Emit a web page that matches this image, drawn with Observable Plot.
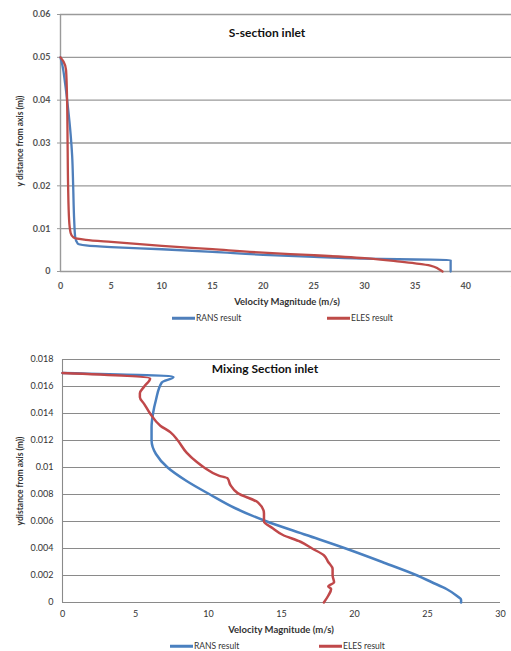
<!DOCTYPE html>
<html><head><meta charset="utf-8">
<script src="https://cdn.jsdelivr.net/npm/d3@7"></script>
<script src="https://cdn.jsdelivr.net/npm/@observablehq/plot@0.6"></script>
<style>
body{margin:0;background:#fff;overflow:hidden;font-family:Lato,"Open Sans",sans-serif}
#wrap{position:relative;width:511px;height:651px;overflow:hidden;background:#fff}
.abs{position:absolute;white-space:nowrap;transform:translate(-50%,-50%);line-height:1}
.title{font-weight:bold;font-size:12px;color:#111}
.xlab{font-weight:bold;font-size:9.5px;color:#333}
.ylab{font-weight:bold;font-size:8.5px;color:#333;transform:translate(-50%,-50%) rotate(-90deg)}
.leg{position:absolute;white-space:nowrap;font-size:8.5px;color:#333;line-height:1;transform:translateY(-50%)}
.leg i{display:inline-block;width:23px;height:3px;vertical-align:middle;margin-right:1px}
#c1,#c2{position:absolute;left:0}
#c1{top:0}#c2{top:335px}
</style></head>
<body><div id="wrap">
<div id="c1"></div><div id="c2"></div>
</div>
<script>
// ---- S-section inlet ----
const sRansVel = [38.5, 38.5, 35, 30, 25, 20, 15, 10, 5, 2.5, 1.7, 1.45, 1.35, 1.25, 1.15, 1.0, 0.75, 0.45, 0.2, 0];
const sRansY   = [0, 0.0027, 0.0028, 0.0030, 0.0034, 0.0039, 0.0046, 0.0052, 0.0057, 0.0061, 0.0065, 0.008, 0.012, 0.02, 0.027, 0.032, 0.038, 0.044, 0.048, 0.05];
const sElesVel = [37.7, 37.3, 36.5, 35, 33.5, 30, 25, 20, 15, 10, 5, 2.5, 1.3, 1.0, 0.85, 0.75, 0.7, 0.65, 0.55, 0.3, 0];
const sElesY   = [0, 0.0006, 0.0014, 0.0019, 0.0023, 0.0031, 0.0038, 0.0044, 0.0052, 0.006, 0.0069, 0.0074, 0.0079, 0.009, 0.012, 0.02, 0.03, 0.04, 0.047, 0.049, 0.05];
const sXTicks = [0, 5, 10, 15, 20, 25, 30, 35, 40, 45];
const sYTicks = [0, 0.01, 0.02, 0.03, 0.04, 0.05, 0.06];
const sYLabels = ["0", "0.01", "0.02", "0.03", "0.04", "0.05", "0.06"];

// ---- Mixing Section inlet ----
const mRansVel = [27.3, 27.3, 27.0, 26.3, 25.3, 24.3, 21.9, 19.4, 16.7, 14.0, 11.8, 10.1, 8.5, 7.2, 6.4, 6.1, 6.1, 6.2, 6.4, 6.8, 7.6, 0];
const mRansY   = [0, 0.0002, 0.0005, 0.001, 0.0015, 0.002, 0.003, 0.004, 0.005, 0.006, 0.007, 0.008, 0.009, 0.010, 0.011, 0.012, 0.013, 0.014, 0.015, 0.0163, 0.0167, 0.0170];
const mElesVel = [0, 6.0, 5.6, 5.3, 5.3, 5.6, 6.0, 6.7, 7.4, 7.9, 8.5, 9.2, 9.7, 10.7, 11.3, 11.5, 12.0, 13.4, 13.8, 13.8, 14.4, 15.1, 16.3, 17.1, 17.9, 18.2, 18.5, 18.5, 18.6, 18.2, 18.4, 18.2, 17.9];
const mElesY   = [0.017, 0.0166, 0.016, 0.0155, 0.0152, 0.0147, 0.014, 0.0131, 0.0126, 0.012, 0.0111, 0.0104, 0.01, 0.0094, 0.0092, 0.0087, 0.0081, 0.0074, 0.0066, 0.006, 0.0055, 0.005, 0.0045, 0.004, 0.0035, 0.003, 0.0025, 0.002, 0.0015, 0.0012, 0.001, 0.0005, 0];
const mXTicks = [0, 5, 10, 15, 20, 25, 30];
const mYTicks = [0, 0.002, 0.004, 0.006, 0.008, 0.01, 0.012, 0.014, 0.016, 0.018];
const mYLabels = ["0", "0.002", "0.004", "0.006", "0.008", "0.01", "0.012", "0.014", "0.016", "0.018"];

const seriesNames = ["RANS result", "ELES result"];
const colors = ["#4f7fbb", "#be4b48"];

const rows = (vel, ys) => vel.map((v, i) => ({v, y: ys[i]}));

const c1 = Plot.plot({
  width: 511, height: 335,
  marginLeft: 60, marginRight: 0, marginTop: 14, marginBottom: 64,
  style: {fontFamily: "Lato, 'Open Sans', sans-serif", fontSize: "9px", background: "transparent", overflow: "visible"},
  x: {domain: [0, 45], range: [60, 516]},
  y: {domain: [0, 0.06]},
  marks: [
    Plot.gridY(sYTicks, {stroke: "#9a9a9a", strokeOpacity: 1, strokeWidth: 1.4}),
    Plot.ruleX([0], {stroke: "#9a9a9a", strokeWidth: 1.4}),
    Plot.axisY(sYTicks, {tickFormat: d => sYLabels[sYTicks.indexOf(d)], tickSize: 3, tickPadding: 7, stroke: "#9a9a9a", fill: "#555", fontWeight: "bold", label: null}),
    Plot.axisX(sXTicks, {tickSize: 0, tickPadding: 11.5, fill: "#555", fontWeight: "bold", label: null}),
    Plot.line(rows(sRansVel, sRansY), {x: "v", y: "y", stroke: colors[0], strokeWidth: 2.3, curve: "monotone-y"}),
    Plot.line(rows(sElesVel, sElesY), {x: "v", y: "y", stroke: colors[1], strokeWidth: 2.3, curve: "monotone-y"})
  ]
});
document.getElementById("c1").append(c1);

const c2 = Plot.plot({
  width: 511, height: 316,
  marginLeft: 62, marginRight: 11, marginTop: 24, marginBottom: 49,
  style: {fontFamily: "Lato, 'Open Sans', sans-serif", fontSize: "9px", background: "transparent", overflow: "visible"},
  x: {domain: [0, 30]},
  y: {domain: [0, 0.018]},
  marks: [
    Plot.gridY(mYTicks, {stroke: "#8a8a8a", strokeOpacity: 1, strokeWidth: 1.1}),
    Plot.ruleX([0], {stroke: "#8a8a8a", strokeWidth: 1.1}),
    Plot.axisY(mYTicks, {tickFormat: d => mYLabels[mYTicks.indexOf(d)], tickSize: 0, tickPadding: 9, fill: "#333", label: null}),
    Plot.axisX(mXTicks, {tickSize: 0, tickPadding: 8.5, fill: "#333", label: null}),
    Plot.line(rows(mRansVel, mRansY), {x: "v", y: "y", stroke: "#4a80c0", strokeWidth: 2.5, curve: "monotone-y"}),
    Plot.line(rows(mElesVel, mElesY), {x: "v", y: "y", stroke: "#c0484a", strokeWidth: 2.5, curve: "monotone-y"})
  ]
});
document.getElementById("c2").append(c2);

const wrap = document.getElementById("wrap");
function add(cls, text, x, y) {
  const d = document.createElement("div");
  d.className = "abs " + cls; d.textContent = text;
  d.style.left = x + "px"; d.style.top = y + "px";
  wrap.append(d);
}
function legend(name, color, x, y) {
  const d = document.createElement("div");
  d.className = "leg";
  d.style.left = x + "px"; d.style.top = y + "px";
  const i = document.createElement("i"); i.style.background = color;
  d.append(i, document.createTextNode(name));
  wrap.append(d);
}
add("title", "S-section inlet", 267, 33);
add("xlab", "Velocity Magnitude (m/s)", 287, 302);
add("ylab", "y distance from axis (m))", 20, 141);
legend(seriesNames[0], colors[0], 172, 318);
legend(seriesNames[1], colors[1], 327, 318);

add("title", "Mixing Section inlet", 265, 369);
add("xlab", "Velocity Magnitude (m/s)", 281, 630);
add("ylab", "ydistance from axis (m))", 20, 481);
legend(seriesNames[0], "#4a80c0", 170, 646);
legend(seriesNames[1], "#c0484a", 319, 646);
</script>
</body></html>
